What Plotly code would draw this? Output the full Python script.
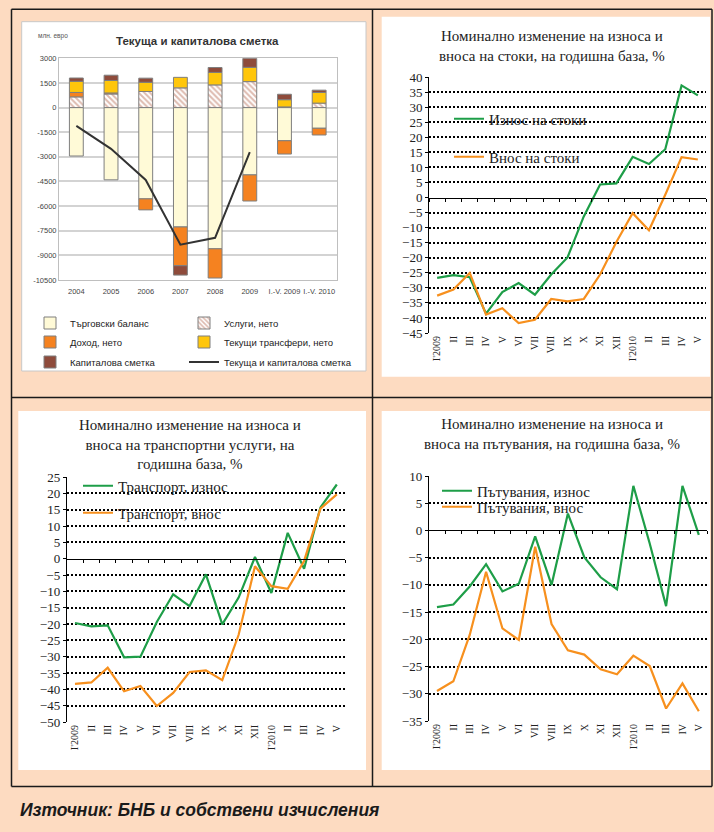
import plotly.graph_objects as go

W, H = 714, 832

# ---------------- Panel 1 data (млн. евро) ----------------
years = ["2004", "2005", "2006", "2007", "2008", "2009", "I.-V. 2009", "I.-V. 2010"]
trade = [-2950, -4400, -5560, -7270, -8600, -4100, -2020, -1260]
services = [650, 830, 980, 1200, 1380, 1580, 40, 270]
income = [270, 60, -670, -2360, -1780, -1590, -810, -410]
transfers = [680, 760, 560, 640, 760, 870, 440, 650]
capital = [200, 320, 250, -570, 300, 550, 330, 140]
cur_cap = [-1120, -2510, -4410, -8350, -7930, -2720, None, None]
p1_ticks = [3000, 1500, 0, -1500, -3000, -4500, -6000, -7500, -9000, -10500]

# ---------------- Monthly data (% y/y) ----------------
months = ["I'2009", "II", "III", "IV", "V", "VI", "VII", "VIII", "IX", "X", "XI", "XII",
          "I'2010", "II", "III", "IV", "V"]
goods_exp = [-26.7, -25.8, -26.5, -38.6, -31.4, -28.4, -32.3, -25.6, -19.9, -6.3, 4.3, 4.7,
             13.5, 11.1, 16.0, 37.2, 33.9]
goods_imp = [-32.6, -30.6, -25.1, -38.9, -36.8, -41.7, -40.6, -33.7, -34.5, -33.7, -25.6, -14.8,
             -5.2, -10.9, 0.9, 13.4, 12.6]
transp_exp = [-19.7, -20.7, -20.4, -30.2, -30.0, -19.4, -10.9, -14.5, -4.8, -20.1, -11.9, 0.5,
              -10.5, 7.9, -3.1, 15.7, 22.7]
transp_imp = [-38.3, -37.9, -33.4, -40.6, -39.0, -45.1, -41.1, -34.7, -34.2, -37.2, -23.3, -2.3,
              -8.4, -9.2, -0.7, 15.3, 19.7]
travel_exp = [-14.1, -13.6, -10.3, -6.2, -11.2, -9.8, -1.1, -10.0, 3.1, -4.9, -8.6, -10.8,
              8.2, -2.4, -13.9, 8.2, -0.8]
travel_imp = [-29.5, -27.7, -19.2, -7.6, -18.0, -20.1, -3.0, -17.2, -22.0, -22.8, -25.5, -26.4,
              -23.0, -24.9, -32.7, -28.1, -33.2]

GREEN = "#1E9E48"
ORANGE = "#F7901E"
SANS = "Liberation Sans, Arial, sans-serif"
SERIF = "Liberation Serif, Times New Roman, serif"


def px_x(v):
    return v / W


def px_y(v):
    return 1 - v / H


fig = go.Figure()

# ---------- panel 1 bars ----------
bar_common = dict(x=years, xaxis="x", yaxis="y", marker_line=dict(color="#7F7F7F", width=1))
fig.add_bar(y=trade, name="Търговски баланс", marker_color="#FFFAD7", legend="legend", **bar_common)
fig.add_bar(y=services, name="Услуги, нето", legend="legend2",
            marker=dict(color="white", line=dict(color="#7F7F7F", width=1),
                        pattern=dict(shape="\\", fgcolor="#BC7560", bgcolor="white", size=4, solidity=0.5)),
            x=years, xaxis="x", yaxis="y")
fig.add_bar(y=income, name="Доход, нето", marker_color="#F58220", legend="legend3", **bar_common)
fig.add_bar(y=transfers, name="Текущи трансфери, нето", marker_color="#FFC60B", legend="legend4", **bar_common)
fig.add_bar(y=capital, name="Капиталова сметка", marker_color="#8E4B3B", legend="legend5", **bar_common)
fig.add_scatter(x=years, y=cur_cap, name="Текуща и капиталова сметка", mode="lines",
                line=dict(color="#333333", width=2), xaxis="x", yaxis="y", legend="legend6")

# ---------- line panels ----------
idx = list(range(len(months)))
panels = [
    ("x2", "y2", goods_exp, goods_imp, ("Износ на стоки", "Внос на стоки"), ("legend7", "legend8")),
    ("x3", "y3", transp_exp, transp_imp, ("Транспорт, износ", "Транспорт, внос"), ("legend9", "legend10")),
    ("x4", "y4", travel_exp, travel_imp, ("Пътувания, износ", "Пътувания, внос"), ("legend11", "legend12")),
]
for xa, ya, ex, im, names, legs in panels:
    fig.add_scatter(x=idx, y=ex, name=names[0], mode="lines", line=dict(color=GREEN, width=2.2),
                    xaxis=xa, yaxis=ya, legend=legs[0])
    fig.add_scatter(x=idx, y=im, name=names[1], mode="lines", line=dict(color=ORANGE, width=2.2),
                    xaxis=xa, yaxis=ya, legend=legs[1])

overlay = [("x5", "y5"), ("x6", "y6"), ("x7", "y7")]
for xo, yo in overlay:
    fig.add_scatter(x=[], y=[], xaxis=xo, yaxis=yo, showlegend=False, hoverinfo="skip")

# ---------- layout ----------
lay = dict(
    width=W, height=H, margin=dict(l=0, r=0, t=0, b=0, autoexpand=False),
    paper_bgcolor="#FDDBC1", plot_bgcolor="rgba(0,0,0,0)",
    barmode="relative", bargap=0.6, showlegend=True,
    font=dict(family=SERIF, color="#222222"),
)

lay["xaxis"] = dict(domain=[px_x(59), px_x(336.5)], anchor="y", type="category",
                    showgrid=False, ticks="", showline=True, linecolor="#BFBFBF", mirror=True,
                    tickangle=0, automargin=False, ticklabelstandoff=4,
                    tickfont=dict(family=SANS, size=7.5, color="#444"), fixedrange=True)
lay["yaxis"] = dict(domain=[px_y(280), px_y(58.3)], anchor="x", range=[-10500, 3000],
                    tickvals=p1_ticks, ticktext=[str(v) for v in p1_ticks], automargin=False,
                    showgrid=True, gridcolor="#D3D3D3", gridwidth=1.5, zeroline=False,
                    showline=True, linecolor="#BFBFBF", mirror=True, ticks="",
                    tickfont=dict(family=SANS, size=7.5, color="#444"))

geo = {
    "2": dict(x=(429, 706), y=(77, 333), r=(-45, 40), d=5, zero=197.5),
    "3": dict(x=(66.8, 345), y=(477, 722), r=(-50, 25), d=5, zero=558.7),
    "4": dict(x=(428.8, 707), y=(476, 721), r=(-35, 10), d=5, zero=530.4),
}
ovmap = {"2": "5", "3": "6", "4": "7"}
for k, g in geo.items():
    lo, hi = g["r"]
    vals = list(range(lo, hi + 1, g["d"]))
    lay["xaxis" + k] = dict(domain=[px_x(g["x"][0]), px_x(g["x"][1])], anchor="y" + k,
                            range=[-0.5, len(months) - 0.5], tickvals=idx, ticktext=months,
                            tickangle=-90, showgrid=False, zeroline=False, showline=False, ticks="",
                            automargin=False,
                            tickfont=dict(family=SERIF, size=10, color="#222"))
    lay["yaxis" + k] = dict(domain=[px_y(g["y"][1]), px_y(g["y"][0])], anchor="x" + k,
                            range=[lo, hi], tickvals=vals, showgrid=False, zeroline=False,
                            showline=True, linecolor="black", linewidth=1, ticks="outside",
                            ticklen=3, tickcolor="black", automargin=False,
                            tickfont=dict(family=SERIF, size=13, color="#222"))
    o = ovmap[k]
    lay["xaxis" + o] = dict(overlaying="x" + k, anchor="free", position=px_y(g["zero"]),
                            range=[-0.5, len(months) - 0.5],
                            tickvals=[i - 0.5 for i in range(len(months) + 1)],
                            showticklabels=False, ticks="outside", ticklen=3, tickcolor="black",
                            showline=True, linecolor="black", linewidth=1, showgrid=False,
                            zeroline=False, automargin=False)
    lay["yaxis" + o] = dict(overlaying="y" + k, anchor="x" + o, range=[lo, hi],
                            tickvals=[v for v in vals if v != 0], showticklabels=False,
                            showgrid=True, gridcolor="black", gridwidth=2, griddash="2px,2px",
                            zeroline=False, showline=False, ticks="", automargin=False)


def leg(x_text, y_c, font):
    return dict(x=px_x(x_text - 40), y=px_y(y_c), xanchor="left", yanchor="middle",
                xref="paper", yref="paper", bgcolor="rgba(0,0,0,0)", borderwidth=0,
                font=font, orientation="v", itemwidth=30, traceorder="normal")


f1 = dict(family=SANS, size=9.5, color="#222")
fs = dict(family=SERIF, size=15, color="#222")
lay["legend"] = leg(70, 323, f1)
lay["legend2"] = leg(224, 323, f1)
lay["legend3"] = leg(70, 342, f1)
lay["legend4"] = leg(224, 342, f1)
lay["legend5"] = leg(70, 362, f1)
lay["legend6"] = leg(224, 362, f1)
lay["legend7"] = leg(489, 119, fs)
lay["legend8"] = leg(489, 157, fs)
lay["legend9"] = leg(118, 486, fs)
lay["legend10"] = leg(118, 513, fs)
lay["legend11"] = leg(477, 491, fs)
lay["legend12"] = leg(477, 507, fs)


def rect(x0, y0, x1, y1, fill, line=None):
    return dict(type="rect", xref="paper", yref="paper", x0=px_x(x0), x1=px_x(x1),
                y0=px_y(y1), y1=px_y(y0), fillcolor=fill, layer="below",
                line=dict(color=line or fill, width=1 if line else 0))


def hline(x0, x1, y):
    return dict(type="line", xref="paper", yref="paper", x0=px_x(x0), x1=px_x(x1),
                y0=px_y(y), y1=px_y(y), line=dict(color="#1A1A1A", width=1.5))


def vline(x, y0, y1):
    return dict(type="line", xref="paper", yref="paper", x0=px_x(x), x1=px_x(x),
                y0=px_y(y0), y1=px_y(y1), line=dict(color="#1A1A1A", width=1.5))


lay["shapes"] = [
    rect(21.7, 21.7, 366, 371, "white", "#C8C8C8"),
    rect(381.7, 16.7, 710, 376.7, "white"),
    rect(18.3, 411, 366, 770, "white"),
    rect(381.7, 411, 710, 770, "white"),
    hline(11.5, 712, 9.3), hline(11.5, 712, 397.5), hline(11.5, 712, 786.5),
    vline(11.5, 9.3, 786.5), vline(372.5, 9.3, 786.5), vline(712, 9.3, 786.5),
]


def ann(text, x, y, size, family, xanchor="center", bold=False, italic=False, color="#222"):
    t = text
    if bold:
        t = "<b>" + t + "</b>"
    if italic:
        t = "<i>" + t + "</i>"
    return dict(text=t, x=px_x(x), y=px_y(y), xref="paper", yref="paper", showarrow=False,
                xanchor=xanchor, yanchor="middle", font=dict(size=size, family=family, color=color))


lay["annotations"] = [
    ann("Текуща и капиталова сметка", 197, 41, 11.5, SANS, bold=True, color="#333"),
    ann("млн. евро", 36, 36, 6.5, SANS, xanchor="left", color="#555"),
    ann("Номинално изменение на износа и<br>вноса на стоки, на годишна база, %", 552, 45.5, 15, SERIF),
    ann("Номинално изменение на износа и<br>вноса на транспортни услуги, на<br>годишна база, %",
        190, 444, 15, SERIF),
    ann("Номинално изменение на износа и<br>вноса на пътувания, на годишна база, %", 552, 434.5, 15, SERIF),
    ann("Източник: БНБ и собствени изчисления", 18, 810, 17.5, SANS,
        xanchor="left", bold=True, italic=True, color="#1A1A1A"),
]

fig.update_layout(**lay)
fig.write_html("out.html", config={"displayModeBar": False},
               post_script="document.body.style.margin='0px';document.body.style.padding='0px';"
                           "document.body.style.background='#FDDBC1';")
